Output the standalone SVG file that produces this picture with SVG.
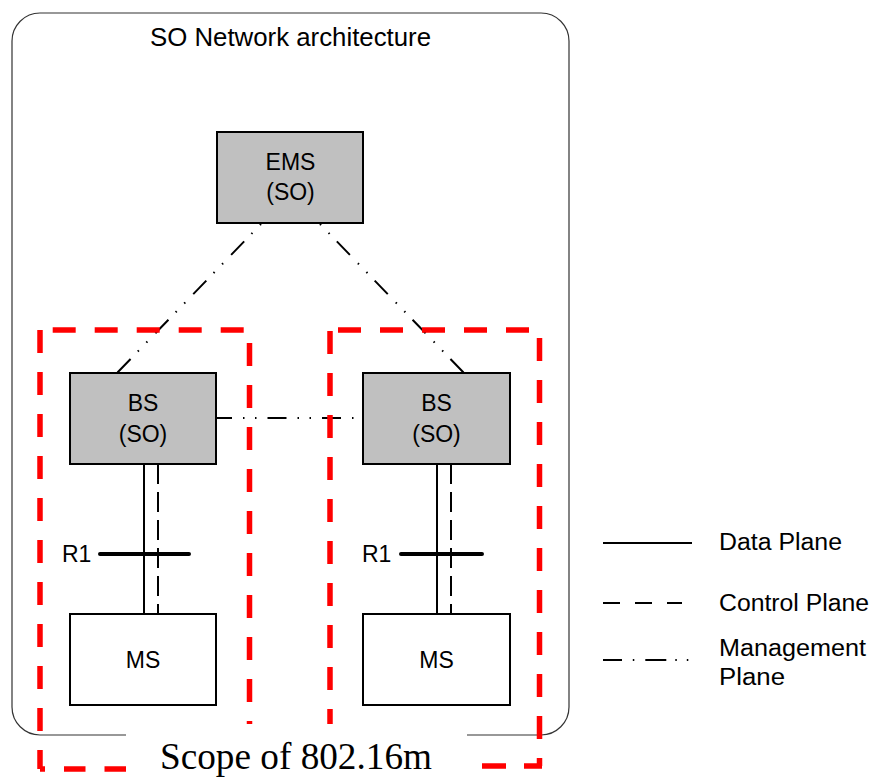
<svg xmlns="http://www.w3.org/2000/svg" width="875" height="777" viewBox="0 0 875 777">
<style>
text{font-family:"Liberation Sans",Arial,sans-serif;fill:#000}
text.serif{font-family:"Liberation Serif","Times New Roman",serif}
.box{fill:#c0c0c0;stroke:#000;stroke-width:2}
.wbox{fill:#fff;stroke:#000;stroke-width:2}
.lbl{font-size:23px;text-anchor:middle}
.data{stroke:#000;stroke-width:2;fill:none}
.ctrl{stroke:#000;stroke-width:2;fill:none;stroke-dasharray:20 8}
.mgmt{stroke:#000;stroke-width:2;fill:none;stroke-dasharray:1.5 10.8 1.5 10.4 18.8 11.5}
.mgmth{stroke:#000;stroke-width:2;fill:none;stroke-dasharray:19 11 1.5 10.5 1.5 11}
.red{stroke:#ff0000;stroke-width:5.5;fill:none;stroke-dasharray:23 19}
.leg{font-size:23.5px}
</style>
<rect width="875" height="777" fill="#fff"/>
<g id="frame">
<path d="M126 735 H40 A28 28 0 0 1 12 707 V41 A28 28 0 0 1 40 13 H541 A28 28 0 0 1 569 41 V707 A28 28 0 0 1 541 735 H467" fill="none" stroke="#333" stroke-width="1.2"/>
<text x="290.5" y="46" font-size="26" text-anchor="middle" textLength="281" lengthAdjust="spacingAndGlyphs">SO Network architecture</text>
</g>
<g id="connectors">
<path class="mgmt" d="M261 224 L117 373"/>
<path class="mgmt" d="M320 224 L464 373"/>
<path class="mgmth" d="M216 418 H363" stroke-dashoffset="3"/>
<path class="data" d="M144 464 V614"/>
<path class="ctrl" d="M158 464 V614"/>
<path class="data" d="M437 464 V614"/>
<path class="ctrl" d="M451 464 V614"/>
<path d="M100 554 H189 M401 554 H482" stroke="#000" stroke-width="4" stroke-linecap="round"/>
</g>
<g id="r1-left"><text x="62" y="562" font-size="23">R1</text></g>
<g id="r1-right"><text x="362" y="562" font-size="23">R1</text></g>
<g id="ems">
<rect class="box" x="217" y="132" width="146" height="91"/>
<text class="lbl" x="290.5" y="170">EMS</text>
<text class="lbl" x="290.5" y="200">(SO)</text>
</g>
<g id="bs-left">
<rect class="box" x="70" y="373" width="146" height="91"/>
<text class="lbl" x="143" y="411">BS</text>
<text class="lbl" x="143" y="442">(SO)</text>
</g>
<g id="bs-right">
<rect class="box" x="363" y="373" width="147" height="91"/>
<text class="lbl" x="436.5" y="411">BS</text>
<text class="lbl" x="436.5" y="442">(SO)</text>
</g>
<g id="ms-left">
<rect class="wbox" x="70" y="614" width="146" height="91"/>
<text class="lbl" x="143" y="668">MS</text>
</g>
<g id="ms-right">
<rect class="wbox" x="363" y="614" width="147" height="91"/>
<text class="lbl" x="436.5" y="668">MS</text>
</g>
<g id="scope-left">
<path class="red" d="M40 330 V769"/>
<path class="red" d="M52.7 330 H249.5"/>
<path class="red" d="M249.5 343 V724"/>
<path class="red" d="M126 769 H40" style="stroke-dasharray:21.5 19"/>
</g>
<g id="scope-right">
<path class="red" d="M330 331 V724"/>
<path class="red" d="M338 330 H530"/>
<path class="red" d="M539.5 338 V766"/>
<path d="M482 766 H506 M524 766 H542" stroke="#ff0000" stroke-width="5.5" fill="none"/>
</g>
<g id="scope-label">
<text class="serif" x="160" y="769" font-size="38" textLength="272" lengthAdjust="spacingAndGlyphs">Scope of 802.16m</text>
</g>
<g id="legend">
<path d="M603 543 H692" stroke="#000" stroke-width="2"/>
<path d="M603 603 H682" stroke="#000" stroke-width="2" stroke-dasharray="17 15"/>
<path d="M603 660 H690" stroke="#000" stroke-width="2" stroke-dasharray="19 10.8 1.5 11 21 9 1.5 10 1.5 100"/>
<text class="leg" x="719" y="550" textLength="123" lengthAdjust="spacingAndGlyphs">Data Plane</text>
<text class="leg" x="719" y="611" textLength="150" lengthAdjust="spacingAndGlyphs">Control Plane</text>
<text class="leg" x="719" y="656" textLength="147" lengthAdjust="spacingAndGlyphs">Management</text>
<text class="leg" x="719" y="685" textLength="66" lengthAdjust="spacingAndGlyphs">Plane</text>
</g>
</svg>
